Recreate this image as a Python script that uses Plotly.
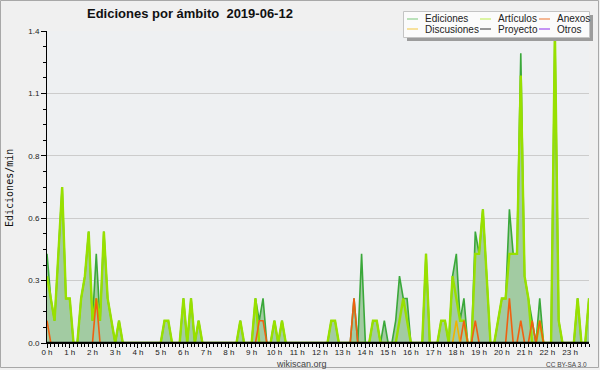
import plotly.graph_objects as go

# ---- data: edits/min, one value per 10 minutes (00:00 .. 23:50) ----
minutes = list(range(0, 1440, 10))
hours = [m / 60 for m in minutes]

ediciones = [
    0.4, 0.2, 0.1, 0.4, 0.7, 0.2, 0.2, 0, 0, 0.2, 0.3, 0.5,
    0.1, 0.4, 0.1, 0.5, 0.2, 0.1, 0, 0.1, 0, 0, 0, 0,
    0, 0, 0, 0, 0, 0, 0, 0.1, 0.1, 0, 0, 0,
    0.2, 0, 0.2, 0, 0.1, 0, 0, 0, 0, 0, 0, 0,
    0, 0, 0, 0.1, 0, 0, 0, 0.2, 0.1, 0.2, 0, 0,
    0.1, 0, 0.1, 0, 0, 0, 0, 0, 0, 0, 0, 0,
    0, 0, 0, 0.1, 0.1, 0, 0, 0, 0, 0.2, 0, 0.4,
    0, 0, 0.1, 0.1, 0, 0.1, 0, 0, 0.1, 0.3, 0.2, 0.2,
    0, 0, 0, 0, 0.4, 0, 0, 0, 0.1, 0.1, 0, 0.3,
    0.4, 0.1, 0.2, 0, 0, 0.5, 0.4, 0.6, 0.3, 0, 0, 0.1,
    0.2, 0.2, 0.6, 0.4, 0.4, 1.3, 0.3, 0.2, 0.1, 0, 0.2, 0,
    0, 0, 1.4, 0.1, 0, 0, 0, 0, 0.2, 0, 0, 0.2,
]

articulos = [
    0.3, 0.2, 0.1, 0.4, 0.7, 0.2, 0.2, 0, 0, 0.2, 0.3, 0.5,
    0.1, 0.2, 0.1, 0.5, 0.2, 0.1, 0, 0.1, 0, 0, 0, 0,
    0, 0, 0, 0, 0, 0, 0, 0.1, 0.1, 0, 0, 0,
    0.2, 0, 0.2, 0, 0.1, 0, 0, 0, 0, 0, 0, 0,
    0, 0, 0, 0.1, 0, 0, 0, 0.2, 0, 0, 0, 0,
    0.1, 0, 0.1, 0, 0, 0, 0, 0, 0, 0, 0, 0,
    0, 0, 0, 0.1, 0.1, 0, 0, 0, 0, 0, 0, 0,
    0, 0, 0.1, 0.1, 0, 0, 0, 0, 0, 0.1, 0.2, 0.1,
    0, 0, 0, 0, 0.4, 0, 0, 0, 0.1, 0.1, 0, 0.3,
    0.2, 0.1, 0.1, 0, 0, 0.4, 0.4, 0.6, 0.3, 0, 0, 0.1,
    0.2, 0.2, 0.4, 0.4, 0.4, 1.2, 0.3, 0.2, 0, 0, 0.1, 0,
    0, 0, 1.4, 0.1, 0, 0, 0, 0, 0.2, 0, 0, 0.2,
]

anexos = [
    0.1, 0, 0, 0, 0, 0, 0, 0, 0, 0, 0, 0,
    0, 0.2, 0, 0, 0, 0, 0, 0, 0, 0, 0, 0,
    0, 0, 0, 0, 0, 0, 0, 0, 0, 0, 0, 0,
    0, 0, 0, 0, 0, 0, 0, 0, 0, 0, 0, 0,
    0, 0, 0, 0, 0, 0, 0, 0, 0.1, 0.1, 0, 0,
    0, 0, 0, 0, 0, 0, 0, 0, 0, 0, 0, 0,
    0, 0, 0, 0, 0, 0, 0, 0, 0, 0.2, 0, 0,
    0, 0, 0, 0, 0, 0, 0, 0, 0, 0, 0, 0,
    0, 0, 0, 0, 0, 0, 0, 0, 0, 0, 0, 0,
    0, 0, 0.1, 0, 0, 0.1, 0, 0, 0, 0, 0, 0,
    0, 0, 0.2, 0, 0, 0.1, 0, 0, 0.1, 0, 0.1, 0,
    0, 0, 0, 0, 0, 0, 0, 0, 0, 0, 0, 0,
]

discusiones = [
    0, 0, 0, 0, 0, 0, 0, 0, 0, 0, 0, 0,
    0, 0, 0, 0, 0, 0, 0, 0, 0, 0, 0, 0,
    0, 0, 0, 0, 0, 0, 0, 0, 0, 0, 0, 0,
    0, 0, 0, 0, 0, 0, 0, 0, 0, 0, 0, 0,
    0, 0, 0, 0, 0, 0, 0, 0, 0, 0, 0, 0,
    0, 0, 0, 0, 0, 0, 0, 0, 0, 0, 0, 0,
    0, 0, 0, 0, 0, 0, 0, 0, 0, 0, 0, 0,
    0, 0, 0, 0, 0, 0, 0, 0, 0, 0, 0, 0,
    0, 0, 0, 0, 0, 0, 0, 0, 0, 0, 0, 0,
    0.1, 0, 0, 0, 0, 0, 0, 0, 0, 0, 0, 0,
    0, 0, 0, 0, 0, 0, 0, 0, 0, 0, 0, 0,
    0, 0, 0, 0, 0, 0, 0, 0, 0, 0, 0, 0,
]

proyecto = [0.0] * 144
otros = [0.0] * 144

y_tick_vals = [0, 0.28, 0.56, 0.84, 1.12, 1.4]
y_tick_text = ["0.0", "0.3", "0.6", "0.8", "1.1", "1.4"]

title_text = "Ediciones por ámbito\u00a0\u00a02019-06-12"

series = [
    ("Ediciones", ediciones, "#3aa83a", 1.6, "#8fd08f"),
    ("Artículos", articulos, "#98e000", 2.4, "#c6f06a"),
    ("Anexos", anexos, "#f06010", 1.6, "#f08a50"),
    ("Discusiones", discusiones, "#f0b400", 1.6, "#f5d060"),
    ("Proyecto", proyecto, "#555555", 1.0, "#555555"),
    ("Otros", otros, "#9933ff", 1.0, "#a050f0"),
]

# ---- geometry ----
W, H = 600, 370
L, R, T, B = 47, 11, 31, 27
PW, PH = W - L - R, H - T - B


def px(x):
    return (x - L) / PW


def py(y):
    return (H - B - y) / PH


fig = go.Figure()

for k, (name, vals, color, width, _) in enumerate(series):
    kw = {}
    if k == 0:
        kw = dict(fill="tozeroy", fillcolor="#a2cba2")
    fig.add_trace(go.Scatter(
        x=hours, y=vals, name=name, mode="lines",
        line=dict(color=color, width=width),
        showlegend=False, hoverinfo="skip", **kw,
    ))

shapes = []
annotations = []

# outer frame
shapes.append(dict(type="rect", xref="paper", yref="paper",
                   x0=px(0.5), x1=px(598.5), y0=py(367.5), y1=py(0.5),
                   line=dict(color="#a8a8a8", width=1), layer="below"))

# baseline drawn over the traces (thick black x axis as in the original)
shapes.append(dict(type="line", xref="paper", yref="y", x0=0, x1=1,
                   y0=0, y1=0, line=dict(color="black", width=2.5),
                   layer="above"))

# legend box with shadow
shapes.append(dict(type="rect", xref="paper", yref="paper",
                   x0=px(407), x1=px(593), y0=py(41), y1=py(15),
                   line=dict(width=0), fillcolor="#9c9c9c", layer="above"))
shapes.append(dict(type="rect", xref="paper", yref="paper",
                   x0=px(403.5), x1=px(589.5), y0=py(37.5), y1=py(11.5),
                   line=dict(color="#c4c4c4", width=1), fillcolor="#fbfbfb",
                   layer="above"))

cols = [407, 480, 539]
rows = [19, 29]
order = [0, 1, 2, 3, 4, 5]
for n, idx in enumerate(order):
    name, _, _, _, lcol = series[idx]
    cx = cols[n % 3]
    cy = rows[n // 3]
    shapes.append(dict(type="line", xref="paper", yref="paper",
                       x0=px(cx), x1=px(cx + 11), y0=py(cy), y1=py(cy),
                       line=dict(color=lcol, width=1.2), layer="above"))
    annotations.append(dict(xref="paper", yref="paper", x=px(cx + 16), y=py(cy),
                            text=name, showarrow=False, xanchor="left",
                            yanchor="middle",
                            font=dict(family="Liberation Sans, Arial", size=10,
                                      color="#222222")))

# title
annotations.append(dict(xref="paper", yref="paper", x=px(85), y=py(14),
                        text="<b>" + title_text + "</b>", showarrow=False,
                        xanchor="left", yanchor="middle",
                        font=dict(family="Liberation Sans, Arial", size=13,
                                  color="#111111")))
# y-axis title
annotations.append(dict(xref="paper", yref="paper", x=px(9), y=py(188),
                        text="Ediciones/min", showarrow=False, textangle=-90,
                        xanchor="center", yanchor="middle",
                        font=dict(family="DejaVu Sans Mono", size=10,
                                  color="#111111")))
# footer
annotations.append(dict(xref="paper", yref="paper", x=px(301), y=py(363.5),
                        text="wikiscan.org", showarrow=False,
                        xanchor="center", yanchor="middle",
                        font=dict(family="Liberation Sans, Arial", size=9,
                                  color="#444444")))
annotations.append(dict(xref="paper", yref="paper", x=px(589), y=py(364),
                        text="CC BY-SA 3.0", showarrow=False,
                        xanchor="right", yanchor="middle",
                        font=dict(family="Liberation Sans, Arial", size=6.5,
                                  color="#444444")))

tickfont = dict(family="Liberation Sans, Arial", size=8, color="#222222")

fig.update_layout(
    width=W, height=H, autosize=False,
    margin=dict(l=L, r=R, t=T, b=B, pad=0),
    paper_bgcolor="#f0f0f0", plot_bgcolor="#eef0f2",
    shapes=shapes, annotations=annotations, showlegend=False,
    xaxis=dict(
        range=[0, hours[-1]], tickmode="linear", tick0=0, dtick=1,
        ticksuffix=" h", ticks="outside", ticklen=4, tickwidth=1,
        tickcolor="black", showline=True, linecolor="black", linewidth=1,
        showgrid=False, zeroline=False, tickangle=0, tickfont=tickfont,
        ticklabelstandoff=-3,
        minor=dict(tick0=0, dtick=1 / 6, ticks="outside", ticklen=3,
                   tickcolor="black", showgrid=False),
        fixedrange=True,
    ),
    yaxis=dict(
        range=[0, 1.4], tickmode="array", tickvals=y_tick_vals,
        ticktext=y_tick_text, ticks="outside", ticklen=5, tickwidth=1,
        tickcolor="black", showline=True, linecolor="black", linewidth=1,
        showgrid=True, gridcolor="#cccccc", gridwidth=1, zeroline=False,
        tickfont=tickfont,
        minor=dict(tickvals=[k * 0.07 for k in range(21) if k % 4],
                   ticks="outside", ticklen=3, tickcolor="black",
                   showgrid=False),
        fixedrange=True,
    ),
)

fig.write_html(
    "out.html",
    config={"displayModeBar": False},
    post_script="document.body.style.margin='0';document.body.style.background='#f0f0f0';",
)
